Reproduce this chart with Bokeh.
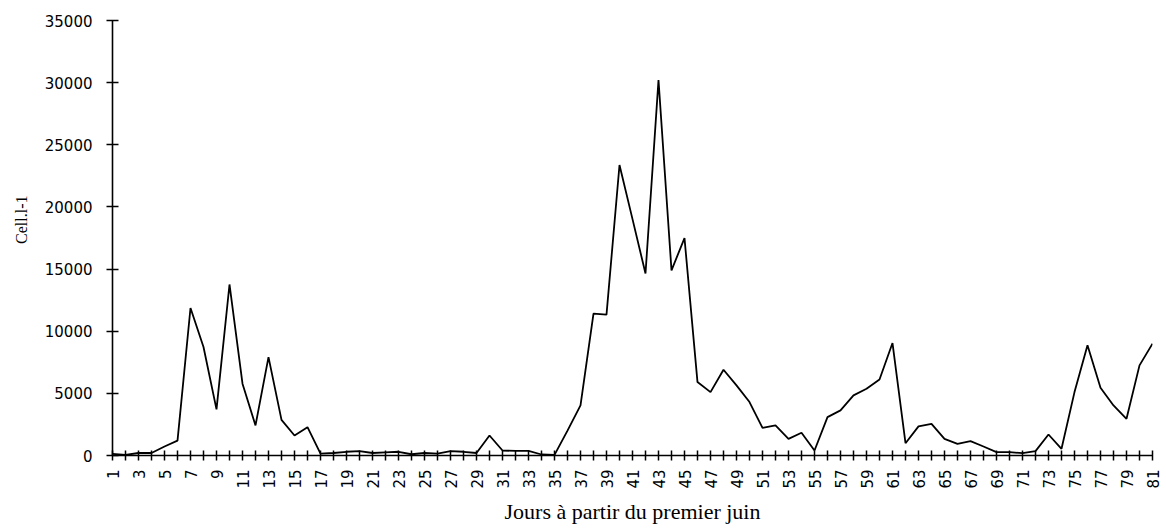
import math
from bokeh.plotting import figure
from bokeh.models import FixedTicker, Range1d, Title
from bokeh.embed import file_html
from bokeh.resources import INLINE

# Daily cell counts (cells per litre), day 1 = 1 June
days = list(range(1, 82))
cells = [
    130, 50, 200, 200, 720, 1200, 11870, 8730, 3710, 13760,
    5780, 2420, 7920, 2870, 1610, 2280, 150, 200, 300, 350,
    200, 250, 300, 100, 200, 150, 350, 300, 200, 1610,
    400, 370, 370, 80, 50, 2000, 4030, 11420, 11340, 23370,
    19020, 14640, 30200, 14900, 17490, 5910, 5100, 6900, 5640, 4300,
    2230, 2420, 1340, 1830, 400, 3090, 3630, 4840, 5370, 6120,
    9050, 990, 2340, 2550, 1340, 940, 1150, 725, 270, 270,
    190, 350, 1690, 540, 5100, 8870, 5450, 4030, 2950, 7250,
    9000,
]
y_ticks = [0, 5000, 10000, 15000, 20000, 25000, 30000, 35000]
x_title = "Jours à partir du premier juin"
y_title = "Cell.l-1"

p = figure(
    width=1166, height=528,
    output_backend="svg", toolbar_location=None,
    x_range=Range1d(1, 81), y_range=Range1d(0, 35000),
    min_border_left=112, min_border_right=14,
    min_border_top=20, min_border_bottom=73,
)
p.background_fill_color = "white"
p.border_fill_color = "white"
p.outline_line_color = None
p.grid.visible = False

p.line(days, cells, line_color="black", line_width=1.8)

sans = "DejaVu Sans"
serif = "Liberation Serif"

# x axis: a tick on every day, labels on odd days
xa = p.xaxis[0]
xa.ticker = FixedTicker(ticks=[d for d in days if d % 2 == 1],
                        minor_ticks=[d for d in days if d % 2 == 0])
xa.major_tick_in = 5
xa.major_tick_out = 5
xa.minor_tick_in = 5
xa.minor_tick_out = 5
xa.major_tick_line_width = 1.5
xa.minor_tick_line_width = 1.5
xa.axis_line_width = 1.6
xa.major_label_orientation = math.pi / 2
xa.major_label_text_font = sans
xa.major_label_text_font_size = "15px"
xa.major_label_text_color = "black"
xa.major_label_standoff = 9
xa.axis_label = x_title
xa.axis_label_text_font = serif
xa.axis_label_text_font_size = "22px"
xa.axis_label_text_font_style = "normal"
xa.axis_label_text_color = "black"
xa.axis_label_standoff = 7

ya = p.yaxis[0]
ya.ticker = FixedTicker(ticks=y_ticks)
ya.minor_tick_line_color = None
ya.major_tick_in = 6
ya.major_tick_out = 6
ya.major_tick_line_width = 1.5
ya.axis_line_width = 1.6
ya.major_label_text_font = sans
ya.major_label_text_font_size = "15px"
ya.major_label_text_color = "black"
ya.major_label_standoff = 14

# y axis title, its end held a fixed distance below the top of the frame
p.add_layout(Title(
    text=y_title, align="right", offset=175, standoff=20,
    vertical_align="top",
    text_font=serif, text_font_size="16px", text_font_style="normal",
    text_color="black",
), "left")

open("out.html", "w").write(file_html(p, INLINE))
